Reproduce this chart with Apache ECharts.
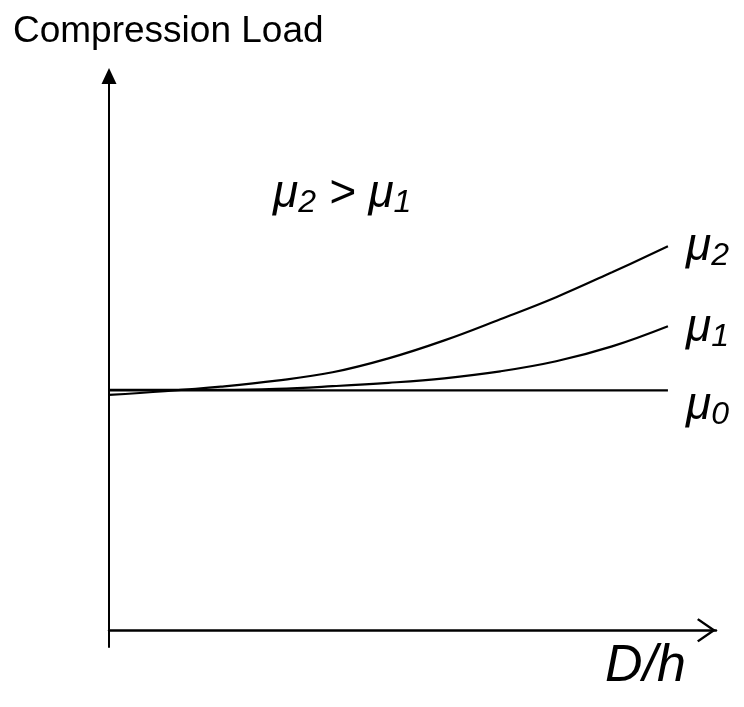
<!DOCTYPE html>
<html>
<head>
<meta charset="utf-8">
<script src="https://cdn.jsdelivr.net/npm/echarts@6/dist/echarts.min.js"></script>
<style>
html,body{margin:0;padding:0;background:#fff;}
#chart{width:744px;height:707px;}
</style>
</head>
<body>
<div id="chart"></div>
<script>
// D/h positions (schematic units)
var dh = [0, 1, 2, 3, 4, 5, 6, 7, 8, 9, 10];
// Compression load (schematic units)
var mu0 = [10, 10, 10, 10, 10, 10, 10, 10, 10, 10, 10];
var mu1 = [10.02, 10.02, 10.02, 10.06, 10.17, 10.31, 10.5, 10.79, 11.21, 11.83, 12.67];
var mu2 = [9.81, 9.96, 10.15, 10.4, 10.75, 11.33, 12.08, 12.96, 13.88, 14.92, 16.0];
var seriesNames = ['μ0', 'μ1', 'μ2'];
var subs = ['0', '1', '2'];

var FONT = 'Arial, "Liberation Sans", sans-serif';

function pairs(ys) { return dh.map(function (x, i) { return [x, ys[i]]; }); }

var richMu = {
  m: { fontSize: 46, fontStyle: 'italic', fontWeight: 'normal', fontFamily: FONT, color: '#000', lineHeight: 50 },
  s: { fontSize: 32, fontStyle: 'italic', fontWeight: 'normal', fontFamily: FONT, color: '#000', lineHeight: 21, verticalAlign: 'bottom' }
};

function mkSeries(name, ys, sub, dy) {
  return {
    name: name,
    type: 'line',
    smooth: 0.4,
    symbol: 'none',
    data: pairs(ys),
    lineStyle: { color: '#000', width: 2.2 },
    itemStyle: { color: '#000' },
    emphasis: { disabled: true },
    endLabel: {
      show: true,
      distance: 18,
      offset: [0, dy],
      formatter: function () { return '{m|μ}{s|' + sub + '}'; },
      rich: richMu
    },
    animation: false
  };
}

var chart = echarts.init(document.getElementById('chart'), null, { renderer: 'canvas' });
chart.setOption({
  backgroundColor: '#fff',
  animation: false,
  title: [
    {
      text: 'Compression Load',
      left: 8, top: 8,
      textStyle: { fontSize: 37, fontWeight: 'normal', fontFamily: FONT, color: '#000' }
    },
    {
      text: '{m|μ}{s|2}{m| > μ}{s|1}',
      left: 268, top: 164,
      textStyle: { fontWeight: 'normal', rich: richMu }
    }
  ],
  grid: { left: 109, right: 28, top: 76, bottom: 60 },
  xAxis: {
    type: 'value', min: 0, max: 10.86,
    name: 'D/h',
    nameLocation: 'end',
    nameGap: -30,
    nameTextStyle: { fontSize: 52, fontStyle: 'italic', fontFamily: FONT, color: '#000', align: 'right', verticalAlign: 'top', padding: [10, 0, 0, 0] },
    axisLine: {
      onZero: true,
      lineStyle: { color: '#000', width: 2.5 },
      symbol: ['none', 'path://M12,0 L24,17.5 L22.3,19 L12,4.2 L1.7,19 L0,17.5 Z'],
      symbolSize: [24, 19],
      symbolOffset: [0, -9.5]
    },
    axisTick: { show: false },
    axisLabel: { show: false },
    splitLine: { show: false }
  },
  yAxis: {
    type: 'value', min: -0.7, max: 23.1,
    axisLine: {
      show: true,
      lineStyle: { color: '#000', width: 2 },
      symbol: ['none', 'triangle'],
      symbolSize: [15, 16]
    },
    axisTick: { show: false },
    axisLabel: { show: false },
    splitLine: { show: false }
  },
  series: [
    mkSeries(seriesNames[0], mu0, subs[0], 16),
    mkSeries(seriesNames[1], mu1, subs[1], 2),
    mkSeries(seriesNames[2], mu2, subs[2], 1)
  ]
});
</script>
</body>
</html>
